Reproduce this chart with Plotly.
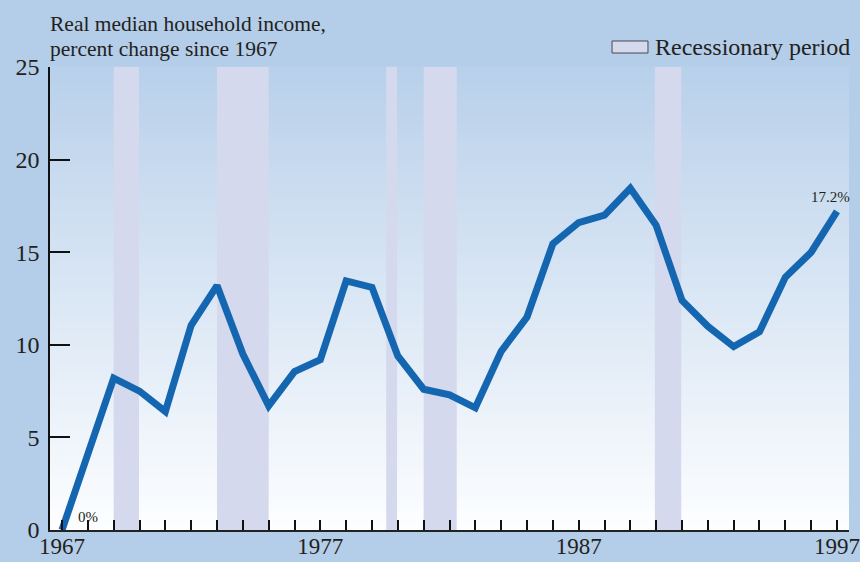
import plotly.graph_objects as go

years = list(range(1967, 1998))
pct_change = [0.0, 4.2, 8.2, 7.5, 6.4, 11.05, 13.2, 9.5, 6.7, 8.55, 9.2,
              13.45, 13.1, 9.4, 7.6, 7.3, 6.6, 9.65, 11.5, 15.45, 16.6,
              17.0, 18.45, 16.45, 12.4, 11.0, 9.9, 10.7, 13.65, 15.0, 17.2]
recession_start = [1969.0, 1973.0, 1979.55, 1981.0, 1989.95]
recession_end = [1969.98, 1975.0, 1979.97, 1982.28, 1990.97]
x_tick_labels = [1967, 1977, 1987, 1997]
y_ticks = [0, 5, 10, 15, 20, 25]

FONT = "Liberation Serif, Times New Roman, serif"
TXT = "#231f20"
OUTER = "#b4cde8"
BAR = "#d4d9ed"
LINE = "#1566b1"

shapes = []
# vertical gradient background of the plot area (top blue -> bottom white)
n = 80
top = (184, 208, 234)
bot = (253, 254, 255)
for i in range(n):
    t = (i + 0.5) / n  # 0 at bottom
    c = tuple(round(bot[k] + (top[k] - bot[k]) * t) for k in range(3))
    shapes.append(dict(type="rect", xref="paper", yref="paper",
                       x0=0, x1=1, y0=i / n, y1=(i + 1) / n + 0.002,
                       fillcolor="rgb(%d,%d,%d)" % c, line=dict(width=0),
                       layer="below"))
for s, e in zip(recession_start, recession_end):
    shapes.append(dict(type="rect", xref="x", yref="y", x0=s, x1=e,
                       y0=0, y1=25, fillcolor=BAR, line=dict(width=0),
                       layer="below"))
# legend swatch
shapes.append(dict(type="rect", xref="paper", yref="paper",
                   x0=0.7034, x1=0.7484, y0=1.0302, y1=1.0562,
                   fillcolor=BAR, line=dict(color="#4a4a4a", width=1)))

fig = go.Figure()
fig.add_trace(go.Scatter(x=years, y=pct_change, mode="lines",
                         line=dict(color=LINE, width=7),
                         showlegend=False, hoverinfo="skip"))

annotations = [
    dict(text="Real median household income,", xref="paper", yref="paper",
         x=-0.002, y=1.0929, xanchor="left", yanchor="middle",
         showarrow=False, font=dict(family=FONT, size=21.5, color=TXT)),
    dict(text="percent change since 1967", xref="paper", yref="paper",
         x=-0.002, y=1.0389, xanchor="left", yanchor="middle",
         showarrow=False, font=dict(family=FONT, size=21.5, color=TXT)),
    dict(text="Recessionary period", xref="paper", yref="paper",
         x=0.755, y=1.043, xanchor="left", yanchor="middle",
         showarrow=False, font=dict(family=FONT, size=24, color=TXT)),
    dict(text="0%", xref="x", yref="y", x=years[0] + 1.0, y=0.7,
         xanchor="center", yanchor="middle", showarrow=False,
         font=dict(family=FONT, size=15, color=TXT)),
    dict(text="%.1f%%" % pct_change[-1], xref="x", yref="y",
         x=years[-1] - 0.27, y=18.0, xanchor="center", yanchor="middle",
         showarrow=False, font=dict(family=FONT, size=15, color=TXT)),
]

fig.update_layout(
    width=860, height=562,
    margin=dict(l=50, r=11, t=67, b=32, pad=0, autoexpand=False),
    paper_bgcolor=OUTER, plot_bgcolor="rgba(0,0,0,0)",
    shapes=shapes, annotations=annotations,
    font=dict(family=FONT, color=TXT, size=23),
    xaxis=dict(range=[1966.535, 1997.465], tickmode="array",
               tickvals=x_tick_labels, ticktext=[str(v) for v in x_tick_labels],
               ticks="inside", ticklen=10, tickwidth=1.5, tickcolor="#111",
               minor=dict(dtick=1, tick0=1967, ticks="inside", ticklen=10,
                          tickwidth=1.5, tickcolor="#111", showgrid=False),
               showgrid=False, zeroline=False, showline=True,
               linecolor="#222", linewidth=2, automargin=False,
               tickfont=dict(family=FONT, size=23, color=TXT),
               ticklabelstandoff=-6, ticklabeloverflow="allow",
               fixedrange=True),
    yaxis=dict(range=[0, 25], tickmode="array", tickvals=y_ticks,
               ticks="inside", ticklen=20, tickwidth=1.5, tickcolor="#111",
               showgrid=False, zeroline=False, showline=True,
               linecolor="#111", linewidth=1.5, automargin=False,
               tickfont=dict(family=FONT, size=24, color=TXT),
               ticklabelstandoff=4, ticklabeloverflow="allow",
               fixedrange=True),
)

fig.write_html(
    "out.html",
    config={"displayModeBar": False},
    post_script="document.body.style.margin='0';document.body.style.padding='0';"
                "document.body.style.overflow='hidden';",
)
